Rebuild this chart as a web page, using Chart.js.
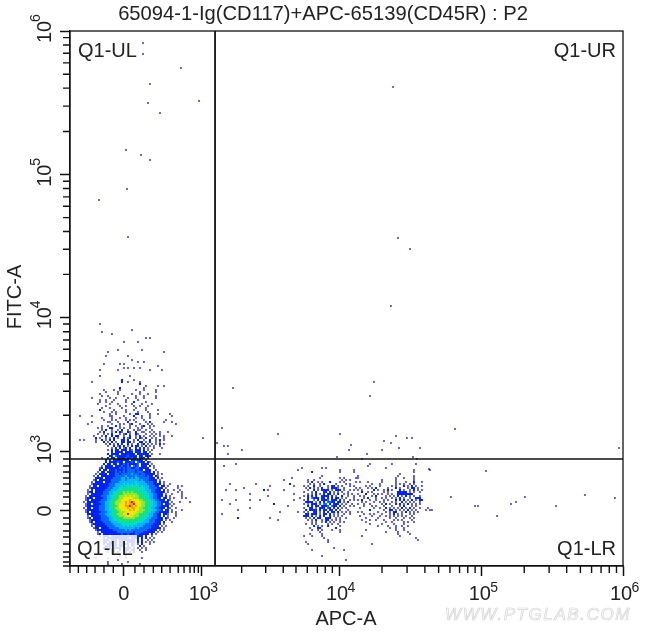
<!DOCTYPE html>
<html>
<head>
<meta charset="utf-8">
<style>
  html, body { margin: 0; padding: 0; background: #fff; }
  canvas { display: block; }
</style>
<script src="https://cdn.jsdelivr.net/npm/chart.js@4"></script>
</head>
<body>
<canvas id="flowPlot" width="650" height="631"></canvas>
<script>
// axis units: 6 means 10^6, the range below 10^3 is the compressed biexponential part
const xMajorTicks = [2.473, 3.023, 3.993, 5.001, 6];
const xMajorLabels = ['0', '3', '4', '5', '6'];
const xMinorTicks = [2.092, 2.151, 2.21, 2.269, 2.332, 2.398, 2.551, 2.615, 2.681, 2.74, 2.799, 2.857, 2.898, 2.94, 2.97, 2.999,
  3.305, 3.475, 3.599, 3.689, 3.769, 3.84, 3.896, 3.946,
  4.297, 4.474, 4.6, 4.697, 4.777, 4.845, 4.903, 4.955,
  5.302, 5.478, 5.602, 5.699, 5.778, 5.845, 5.903, 5.954];
const yMajorTicks = [2.608, 3.027, 3.977, 4.984, 6];
const yMajorLabels = ['0', '3', '4', '5', '6'];
const yMinorTicks = [2.219, 2.247, 2.283, 2.318, 2.375, 2.424, 2.466, 2.516, 2.558, 2.657, 2.707, 2.749, 2.799, 2.841, 2.883, 2.926, 2.975,
  3.284, 3.454, 3.576, 3.67, 3.751, 3.816, 3.875, 3.929,
  4.28, 4.458, 4.583, 4.681, 4.761, 4.828, 4.887, 4.938,
  5.29, 5.469, 5.596, 5.694, 5.775, 5.843, 5.901, 5.953];

const gateX = 3.117;
const gateY = 2.975;

// isolated events
const sparseX = [2.608, 2.608, 2.876, 2.657, 2.643, 3.004, 2.728, 2.488, 2.594, 2.657, 2.495, 2.297, 2.502,
  4.375, 4.41, 4.495, 4.36, 4.24, 4.212, 3.244, 3.166, 3.562, 4.0, 3.032, 4.396, 4.473, 4.509, 4.311, 3.131, 4.36,
  4.078, 3.18, 3.208, 4.417, 4.565, 3.307, 4.064, 4.297, 3.208, 4.191, 3.979, 4.516, 4.544, 4.155,
  5.972, 5.032, 4.629, 4.784, 4.954, 4.975, 5.11, 5.208, 5.244, 5.307, 5.527, 5.731, 5.943, 4.813];
const sparseY = [5.915, 5.837, 5.739, 5.625, 5.491, 5.505, 5.42, 5.159, 5.124, 5.088, 4.883, 4.806, 4.544,
  5.604, 4.537, 4.459, 4.057, 3.519, 3.42, 3.477, 3.194, 3.152, 3.152, 3.124, 3.138, 3.124, 3.124, 3.102, 3.088, 3.088,
  3.074, 3.067, 3.067, 3.053, 3.053, 3.039, 3.039, 3.039, 3.011, 3.011, 2.989, 2.989, 2.975, 2.975,
  3.053, 2.89, 2.905, 2.707, 2.643, 2.643, 2.572, 2.657, 2.671, 2.707, 2.643, 2.721, 2.7, 3.187];

// density, one string per bin row: '.' empty, 1-9 and a = rising density
const binStep = 0.01413;

const cloudOriginX = 2.106;
const cloudOriginY = 3.929;
const cloudRows = [
  '..............1', '', '', '..............................1', '...............1', '....................1', '',
  '.....................................1.1', '', '..........................1......1', '', '', '',
  '.......................1...........1', '..................1...........................1', '', '.................1..........1', '',
  '..............................1', '.................................1..1', '................1.......1.1', '...........................................1',
  '..........................1.1..1..1', '..............1........1...............1.....1', '', '', '..............1..............1', '', '.........................2.....1',
  '..........1..............2..1.....1', '..................................2', '.....................................1.....1..1', '........................2...........1',
  '................1....1..1.......1...1.....1', '.................1.....1..........1.......1', '..............1........1......1...1...1',
  '...............1..1.......1.....1...1.....1', '..........1........1..1.....1...1...1.....1', '..............1..1...1.....1.....1',
  '..............1..1..1......1...2.....1', '.............1.....1...1......1....1....1', '.................1......1..1...1..1...1',
  '...............1...1.....1......1....1', '..............2......1.....1...1.....1.....1', '................1...1.1....1.....1....1',
  '...................1..1......1..22.....1...1.....1', '....1.....1........11.....1....2...1...1..........1', '...............1....1...1..1....1..1...1',
  '................1...1.1....1.1.1....1..........1', '..........1.......11...1....2...1....1.2......1...1', '........1...........1...1.1..12...1...1.1...........1',
  '...............1..1...2.1....1..1..12..1.1', '.............1.1...22...1.1..1...1.1...1', '...............1.2..1..1.2..1..1.11..1..1',
  '..............1.2...1.2.21..21..2..11..1.1..1...1', '.............1..1.1.2...1.12.1..21...1..1.1.1', '...........1...1.2..2.22..1..2..1.2.1..1.1..1.1...1',
  '............2.1..1.1.2.1..2.12..1.21.2..1.1...1', '....1.1.....1..2.1.2.2...22.2..1.2..1..2..1.2.1', '............1...2.1.2.1..22.22.1..22.1.2..1.1'
];

const coreOriginX = 2.1625;
const coreOriginY = 3.081;
const coreRows = [
  '.............1.2.1.2.2..2.1..2.12.1.1.1.2.1',
  '..............1..2.12.2.1.2.22.1.2.1.1..1',
  '................1.2.2.12.2..2.2.2.1..1...1',
  '..............1.2.22.222.21.222.2.1.1',
  '................2.2222.2222.222.22.1',
  '..............2.2222.2222222.222222.1...1',
  '...............22.32222232222.22.222',
  '...........1..2.22.2222322322.222.2',
  '.............2.2.22222222.223222.2',
  '.............2.2222322.22232.3222.21',
  '............2.22.22.2232322223.2222.1',
  '...........1.2222.22232232.323.222.2.1',
  '..........12.2222222323233223322222..1',
  '..........2.22.22232223233332322.222..1',
  '.........1.22.2222323232333323332222.2.1',
  '........1.2222.22233233333433323322222.1.1',
  '.......1.2.22222223333343333433332322.21',
  '........2222.2222333344343434433333222.2.1',
  '.......12.22222233333443444444343332222.1',
  '......1.2222.22233334444444454444333322.2.1',
  '......12222222233344445454545544443332222.1..1',
  '.....1.22.222223334445455555554544433322.22.1....1.1',
  '.....1222222223334445556556565555443333222.1.....1',
  '....1.2.222223334445556656666655544433222.2.1..1..1',
  '....122.22223334455566767676665555443322222.1....1.1',
  '....1.222222333445566677777776665554433222.1..1....1',
  '...1.2222223334455667778787877666554433222.2.1.....1',
  '...1222.222233445566778888877766655443322.22.1.1...1.1',
  '...12.2222233344566778888988887766554433222.21',
  '..1.2222223334456677788989a988877665544332222.1...1....1',
  '...122.22223344566778889899a88877665544332.221.1',
  '...1222222333445566788899a9898877665544332222.1',
  '..1.22.222333445567788889899887766554433222.21..1',
  '...122222233344556677888898988777665544332.22.1....1',
  '...12.222223334455667778888887776655443322222.1.1',
  '....22222233344556677788a8887766655443322.221...1',
  '....1.22222333445566777888877766655443322.2.1...1',
  '....12.22223333445566677777766655544333222.21..1',
  '.....1222223333445556666666666555443332222.1.1',
  '.....12.222233334445556565655555444333222.2...1',
  '......12222223333444455555555444433332222.1',
  '......1.22222233334444545454444433332222.1.1',
  '.......122.222233333444444443433333322222.1',
  '........1222222223333334343333333322222.1.1',
  '.........1.222222223333333323333222222.1.1',
  '.........12.22222222232232223322222.2.1',
  '..........1.222.2222222222222222.2..1',
  '............2.22222222222.2222.2.2.1.1',
  '............222.222.22222222.2.2..1.1',
  '............22.2222.222.2222.2.2.1.1.1',
  '............2.22222.22222.22.1.2...1',
  '.............222.22.222.2.21..2.1',
  '............22.2.2222.2222.2.1.1.1',
  '..............2.22..2.222.22..1..1',
  '..............1.22.2...2.2.2...1',
  '................1...2.2.1.1',
  '....................1..1',
  '........1.....1........1.......1',
  '...................1',
  '..............1.........1',
  '..............1......1........1'
];

// events right of the vertical gate, three short stretches of the same rows
const lrOriginY = 2.954;

const lrLeftOriginX = 3.138;
const lrLeftRows = [
  '', '.........1', '...1', '..........................................1', '........................................1', '', '', '',
  '.....................................1', '.................................1', '', '......1............1................2',
  '..........................1...........1', '.............1', '....1....1.............2.1.......1', '', '................1.....................1',
  '.........................1', '.........................................1', '..1......1......1....1................1', '',
  '......1.....................2', '...................................1', '................1', '..........1', '...............................1........1',
  '..1', '', '..........2...............1', '..............................1'
];

const lrMidOriginX = 3.732;
const lrMidRows = [
  '', '', '', '..........1.1', '...................1......1', '.....2.............1......1', '', '..........1', '.........1.........1.1.....1',
  '...1..1.............1.1.1', '...1.2..1.1...2....1.1.....1', '....1.1..1.2.....1....1.1', '.1.1..2..1...1.22.1.1...1.1',
  '..1.2.1.1.2..1.2221..1.....1', '...1..2.1.2222.1.222.1..1.1', '.1...1.2...22.2.1.1.1..1', '...1.1.2.1.2.22.1.2..1.1.1',
  '.1.2.2.2..2222.2.1..2..1..1', '...2.1222.22.2.2.22.1.1...1', '.1.2..1.2.2223.222.2.1..1.1', '..2222.1.2.2.3322.22.1.2',
  '.1.1.222.3.33.2.222.1.1..1', '...2.2.22.2223.322.2.1..1.1', '.1..22.1.222.32.2.2.1.1', '..2.2222.2.22.22.2.1...1',
  '.1.1..22.1.2.2.22.2.1.1.1', '..22.222.1.22.2.1.1..1..1', '.222.2.1.2.2..2.1.1.1', '..1.1.2.22..222..1.1..1',
  '...1.1.2..1.22.1.1.1', '.....1.1..1.2.1.1..1.1', '..1..1.1.....1.1..1', '......2.1.1..2.....1', '....1...22.......2',
  '.....1..1.1....1...1', '.........1.........1', '....1.....1', '.1...1....1', '...........1', '.............1', '..1..........1',
  '...1', '', '................1', '.....1...............1', '', '', '..........1', '', '......................1'
];

const lrRightOriginX = 4.113;
const lrRightRows = [
  '', '.......1..........1...........1', '......1', '...............1', '.............................1.......1', '.............................1',
  '......................1', '.1...................1.......1', '.1..................1...1....1', '.............1......1........1',
  '..1...1......1......1....1...2...1', '........1...1.......1.1.1..1.1', '.....1.1....1.....1.1...2.1.2.1..1', '..1...1.1.2.....1...2.1...1.22.1',
  '.1.1.....2.1..1.2.1...2.1..1.2.1.1', '...2..1.1.....1.1....22222.1.1..1', '.1...2...1.1.1..1.1..22222222', '..1.1...1.2....1.1.1.2.1.2.1.1..1',
  '....1.2...1..1.1..1.1.2.1..1..222', '.1.2...1..1...1.1...2.2.2.1.2.1.22', '...1.1...1..1.1...1.1..2.1.1.1..1', '.1..1..1.....1.2.1..2.2.1.2.1.1.1',
  '....1...1.1...1...1...1.2...1.1', '..1......1..1..2.1.1.1.2.1.2.1..1...1', '.......2......1..22.1.1.1.2.1.1....1.11', '.1.1.......1...1.1.22..1.2.1.1.1',
  '....1..1.1...1...1.2.1.1...1.1', '..1.....1...1..1.1.1.1.1.1..1', '.....1.....1.....1..1...1..1.1', '...1...1..1...1....1.1.1....1',
  '.....1.........1..1.....1.1..1', '.......1.....1.....1....1', '...........1....1...1..1..1', '.................1..1...1', '.....1..............1...1',
  '...............1.....1....1', '.....................1.....1', '...1..................1', '..............................1', '...............................1', '',
  '........1'
];

const levelColors = { 1: '#0000c8', 2: '#0022f0', 3: '#0068ff', 4: '#00b4f8', 5: '#00dcc0', 6: '#18e070', 7: '#90e828', 8: '#ece800', 9: '#ff9a00', a: '#e01000' };

function rowsToCells(rows, originX, originY) {
  const cells = [];
  rows.forEach((row, r) => {
    [...row].forEach((ch, c) => {
      if (ch !== '.') cells.push({ x: originX + c * binStep, y: originY - r * binStep, level: ch });
    });
  });
  return cells;
}

const cellPoint = { pointStyle: 'rect', pointBorderWidth: 0, showLine: false,
  pointRadius: c => (c.raw.level === '1' ? 1.15 : 1.42),
  pointBackgroundColor: c => levelColors[c.raw.level] };

const textColor = '#222';
const labelFont = '20px "Liberation Sans", Arial, sans-serif';
const supFont = '14px "Liberation Sans", Arial, sans-serif';

const flowDecor = {
  id: 'flowDecor',
  afterDatasetsDraw(chart) {
    const { ctx, chartArea: a, scales: { x, y } } = chart;
    ctx.save();

    // pale box behind the LL label
    ctx.fillStyle = 'rgba(255,255,255,0.84)';
    ctx.fillRect(77, 535, 60, 24);

    // frame
    ctx.strokeStyle = '#111';
    ctx.lineWidth = 1.3;
    ctx.strokeRect(a.left, a.top, a.right - a.left, a.bottom - a.top);

    // minor ticks
    ctx.lineWidth = 1.4;
    ctx.beginPath();
    xMinorTicks.forEach(v => { const p = x.getPixelForValue(v); ctx.moveTo(p, a.bottom); ctx.lineTo(p, a.bottom + 7); });
    yMinorTicks.forEach(v => { const p = y.getPixelForValue(v); ctx.moveTo(a.left, p); ctx.lineTo(a.left - 7, p); });
    ctx.stroke();

    ctx.fillStyle = textColor;
    ctx.font = labelFont;
    ctx.textBaseline = 'alphabetic';

    ctx.textAlign = 'center';
    ctx.font = '20.2px "Liberation Sans", Arial, sans-serif';
    ctx.fillText('65094-1-Ig(CD117)+APC-65139(CD45R) : P2', 323, 20);
    ctx.font = labelFont;
    ctx.fillText('APC-A', 346, 625);

    ctx.textAlign = 'left';
    ctx.fillText('Q1-UL', 78, 57);
    ctx.fillText('Q1-LL', 77, 555);
    ctx.textAlign = 'right';
    ctx.fillText('Q1-UR', 616, 57);
    ctx.fillText('Q1-LR', 616, 555);

    // x tick labels, power in superscript
    xMajorTicks.forEach((v, i) => {
      const p = x.getPixelForValue(v);
      ctx.font = labelFont;
      if (xMajorLabels[i] === '0') {
        ctx.textAlign = 'center';
        ctx.fillText('0', p, 600);
        return;
      }
      ctx.textAlign = 'left';
      ctx.fillText('10', p - 13, 600);
      ctx.font = supFont;
      ctx.fillText(xMajorLabels[i], p + 8.5, 592);
    });

    // y tick labels and title are turned a quarter
    ctx.save();
    ctx.translate(21, 297);
    ctx.rotate(-Math.PI / 2);
    ctx.font = labelFont;
    ctx.textAlign = 'center';
    ctx.fillText('FITC-A', 0, 0);
    ctx.restore();

    yMajorTicks.forEach((v, i) => {
      const p = y.getPixelForValue(v);
      ctx.save();
      ctx.translate(51, p);
      ctx.rotate(-Math.PI / 2);
      ctx.font = labelFont;
      if (yMajorLabels[i] === '0') {
        ctx.textAlign = 'center';
        ctx.fillText('0', 0, 0);
      } else {
        ctx.textAlign = 'left';
        ctx.fillText('10', -12, 0);
        ctx.font = supFont;
        ctx.fillText(yMajorLabels[i], 9, -11);
      }
      ctx.restore();
    });

    // watermark
    ctx.font = 'italic 17px "Liberation Sans", Arial, sans-serif';
    ctx.letterSpacing = '1.6px';
    ctx.textAlign = 'left';
    ctx.strokeStyle = '#d4d4d4';
    ctx.lineWidth = 0.7;
    ctx.strokeText('WWW.PTGLAB.COM', 445, 620);
    ctx.restore();
  }
};

function axisFor(min, max, ticks) {
  return {
    type: 'linear', min, max,
    afterBuildTicks: s => { s.ticks = ticks.map(value => ({ value })); },
    ticks: { display: false, autoSkip: false },
    grid: { drawOnChartArea: false, drawTicks: true, tickLength: 10, tickColor: '#111', tickWidth: 1.5 },
    border: { display: true, color: '#111', width: 1.3 }
  };
}

const xAxis = axisFor(2.092, 6, xMajorTicks);
xAxis.afterFit = s => { s.height = 0; };
const yAxis = axisFor(2.219, 6, yMajorTicks);
yAxis.afterFit = s => { s.width = 0; };

new Chart(document.getElementById('flowPlot').getContext('2d'), {
  type: 'scatter',
  data: {
    datasets: [
      { data: [{ x: gateX, y: 2.219 }, { x: gateX, y: 6 }], showLine: true, borderColor: '#111', borderWidth: 1.8, pointRadius: 0 },
      { data: [{ x: 2.092, y: gateY }, { x: 6, y: gateY }], showLine: true, borderColor: '#111', borderWidth: 1.6, pointRadius: 0 },
      { data: sparseX.map((v, i) => ({ x: v, y: sparseY[i] })), showLine: false, pointStyle: 'rect', pointRadius: 1.1, pointBorderWidth: 0, pointBackgroundColor: '#0000b0' },
      { data: rowsToCells(cloudRows, cloudOriginX, cloudOriginY), ...cellPoint },
      { data: rowsToCells(coreRows, coreOriginX, coreOriginY), ...cellPoint },
      { data: rowsToCells(lrLeftRows, lrLeftOriginX, lrOriginY), ...cellPoint },
      { data: rowsToCells(lrMidRows, lrMidOriginX, lrOriginY), ...cellPoint },
      { data: rowsToCells(lrRightRows, lrRightOriginX, lrOriginY), ...cellPoint }
    ]
  },
  options: {
    responsive: false,
    devicePixelRatio: 1,
    animation: false,
    events: [],
    layout: { padding: { left: 70, top: 31, right: 27, bottom: 65 } },
    plugins: { legend: { display: false }, tooltip: { enabled: false } },
    scales: { x: xAxis, y: yAxis }
  },
  plugins: [flowDecor]
});
</script>
</body>
</html>
